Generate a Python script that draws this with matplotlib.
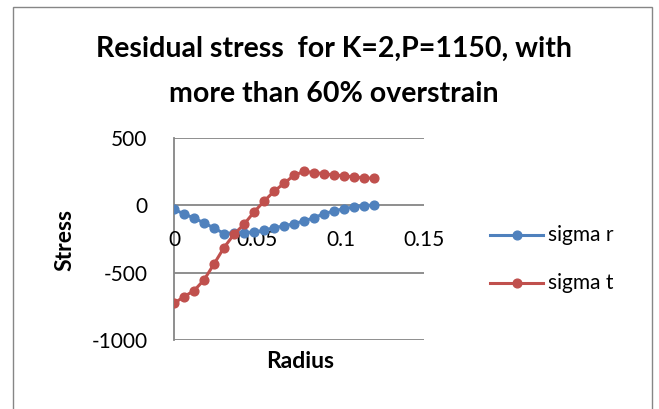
import matplotlib
matplotlib.use("Agg")
import matplotlib.pyplot as plt
from matplotlib.patches import Rectangle
from matplotlib.lines import Line2D

# Radius values (m) and residual stresses
radius = [0.000, 0.006, 0.012, 0.018, 0.024, 0.030, 0.036, 0.042, 0.048, 0.054,
          0.060, 0.066, 0.072, 0.078, 0.084, 0.090, 0.096, 0.102, 0.108, 0.114, 0.120]
sigma_r = [-30, -64, -94, -131, -168, -210, -203, -203, -198, -186,
           -166, -154, -136, -116, -92, -62, -42, -25, -12, -2, 2]
sigma_t = [-728, -678, -634, -554, -436, -314, -215, -141, -50, 30,
           104, 163, 223, 252, 243, 235, 225, 220, 210, 205, 200]

x_ticks = [0, 0.05, 0.1, 0.15]
x_tick_labels = ["0", "0.05", "0.1", "0.15"]
y_ticks = [-1000, -500, 0, 500]
y_tick_labels = ["-1000", "-500", "0", "500"]

title_lines = ["Residual stress  for K=2,P=1150, with", "more than 60% overstrain"]
series_names = ["sigma r", "sigma t"]

BLUE = "#4F81BD"
RED = "#C0504D"
GRID = "#868686"
FONT = "Lato"
TICK_FS = 15
TITLE_FS = 20.5
LAB_FS = 16.5

W, H = 659, 409
fig = plt.figure(figsize=(W / 100, H / 100), dpi=100)
fig.patch.set_facecolor("white")

# outer chart frame
fig.patches.append(Rectangle((13 / W, -0.05), (652 - 13) / W, 1.05 - 7 / H,
                             transform=fig.transFigure, fill=False,
                             edgecolor=GRID, lw=1.0))

left, right, top, bottom = 174, 424, 138, 340
ax = fig.add_axes([left / W, (H - bottom) / H, (right - left) / W, (bottom - top) / H])
ax.set_xlim(0, 0.15)
ax.set_ylim(-1000, 500)

for y in y_ticks:
    ax.axhline(y, color=GRID, lw=1.3, zorder=1)

for s in ["top", "right", "bottom"]:
    ax.spines[s].set_visible(False)
ax.spines["left"].set_color(GRID)
ax.spines["left"].set_linewidth(1.3)

ax.set_xticks([])
ax.set_yticks(y_ticks)
ax.set_yticklabels(y_tick_labels, fontfamily=FONT, fontsize=TICK_FS)
ax.tick_params(axis="y", length=0, pad=19)

# horizontal axis labels sit just below the zero line
for xv, lab in zip(x_ticks, x_tick_labels):
    ax.annotate(lab, xy=(xv, 0), xytext=(0, -25), textcoords="offset pixels",
                ha="center", va="top", fontsize=TICK_FS, fontfamily=FONT,
                annotation_clip=False)

ax.plot(radius, sigma_r, color=BLUE, lw=2.2, marker="o", ms=6.3, zorder=3)
ax.plot(radius, sigma_t, color=RED, lw=2.2, marker="o", ms=6.3, zorder=4)

for line, base in zip(title_lines, [57, 102]):
    fig.text(334 / W, 1 - base / H, line, ha="center", va="baseline",
             fontsize=TITLE_FS, fontweight="bold", fontfamily=FONT)
fig.text(65 / W, 1 - 240 / H, "Stress", rotation=90, ha="center", va="center",
         fontsize=LAB_FS, fontweight="bold", fontfamily=FONT)
fig.text(300 / W, 1 - 362 / H, "Radius", ha="center", va="center",
         fontsize=LAB_FS, fontweight="bold", fontfamily=FONT)

# legend entries
for name, color, yc in zip(series_names, [BLUE, RED], [235, 283]):
    yf = 1 - yc / H
    fig.add_artist(Line2D([490 / W, 543 / W], [yf, yf], color=color, lw=2.2,
                          transform=fig.transFigure))
    fig.add_artist(Line2D([517 / W], [yf], color=color, marker="o", ms=6.3,
                          transform=fig.transFigure))
    fig.text(548 / W, yf, name, ha="left", va="center", fontsize=TICK_FS,
             fontfamily=FONT)

fig.savefig("out.png", dpi=100)
